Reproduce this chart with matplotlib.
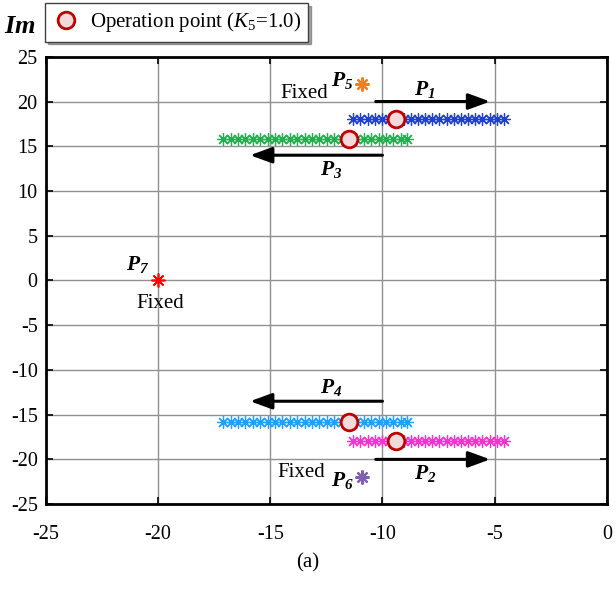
import matplotlib
matplotlib.use("Agg")
import matplotlib.pyplot as plt

plt.rcParams['font.family'] = ['Liberation Serif', 'DejaVu Serif']
plt.rcParams['mathtext.fontset'] = 'custom'
plt.rcParams['mathtext.rm'] = 'Liberation Serif'
plt.rcParams['mathtext.it'] = 'Liberation Serif:italic'
plt.rcParams['mathtext.bf'] = 'Liberation Serif:bold:italic'

# root loci while K5 is swept
p1_x = [-11.30, -10.98, -10.66, -10.34, -10.02, -9.70, -9.38, -9.06, -8.74, -8.42, -8.10,
        -7.78, -7.46, -7.14, -6.82, -6.50, -6.18, -5.86, -5.54, -5.22, -4.90, -4.60]
p1_y = 18.0
p3_x = [-17.10, -16.77, -16.44, -16.11, -15.78, -15.45, -15.12, -14.79, -14.46, -14.13,
        -13.80, -13.47, -13.14, -12.81, -12.48, -12.15, -11.82, -11.49, -11.16, -10.83,
        -10.50, -10.17, -9.84, -9.51, -9.18, -8.90]
p3_y = 15.8
p2_x = p1_x
p2_y = -18.0
p4_x = p3_x
p4_y = -15.8

# fixed poles
p5 = (-10.9, 22.0)
p6 = (-10.9, -22.0)
p7 = (-20.0, 0.0)

# operation point at K5 = 1.0
op_x = [-9.4, -11.5, -11.5, -9.4]
op_y = [18.0, 15.8, -15.8, -18.0]

xticks = [-25, -20, -15, -10, -5, 0]
yticks = [-25, -20, -15, -10, -5, 0, 5, 10, 15, 20, 25]

fig = plt.figure(figsize=(6.16, 5.98), dpi=100)
ax = fig.add_axes([0.0747, 0.157, 0.9103, 0.748])

ast = (8, 2, 0)
ax.plot(p1_x, [p1_y] * len(p1_x), ls='none', marker=ast, ms=9, mew=0.9, color='#2040d0')
ax.plot(p3_x, [p3_y] * len(p3_x), ls='none', marker=ast, ms=9, mew=0.9, color='#20b050')
ax.plot(p2_x, [p2_y] * len(p2_x), ls='none', marker=ast, ms=9, mew=0.9, color='#ff30d0')
ax.plot(p4_x, [p4_y] * len(p4_x), ls='none', marker=ast, ms=9, mew=0.9, color='#20a0ff')
ax.plot(*p5, ls='none', marker=ast, ms=10, mew=1.6, color='#f07f20')
ax.plot(*p6, ls='none', marker=ast, ms=10, mew=1.6, color='#8060b0')
ax.plot(*p7, ls='none', marker=ast, ms=10, mew=1.2, color='#ff0000')

ax.plot(op_x, op_y, ls='none', marker='o', ms=12, mew=2, mfc='#f2dada', mec='#c00000',
        label='Operation point ($\\mathit{K}_5$=1.0)', zorder=5)

# direction arrows as K5 increases
arrow = dict(arrowstyle='-|>,head_length=0.6,head_width=0.22', lw=2.2, color='k',
             mutation_scale=22, shrinkA=0, shrinkB=0)
ax.annotate('', xy=(-5.2, 20.0), xytext=(-10.3, 20.0), arrowprops=arrow)
ax.annotate('', xy=(-5.2, -20.0), xytext=(-10.3, -20.0), arrowprops=arrow)
ax.annotate('', xy=(-15.9, 14.0), xytext=(-10.0, 14.0), arrowprops=arrow)
ax.annotate('', xy=(-15.9, -13.5), xytext=(-10.0, -13.5), arrowprops=arrow)

lbl = dict(fontsize=15.5, ha='center', va='center')
ax.text(-8.1, 21.4, '$\\mathbf{P}_\\mathbf{1}$', **lbl)
ax.text(-12.3, 12.4, '$\\mathbf{P}_\\mathbf{3}$', **lbl)
ax.text(-12.3, -12.0, '$\\mathbf{P}_\\mathbf{4}$', **lbl)
ax.text(-8.1, -21.6, '$\\mathbf{P}_\\mathbf{2}$', **lbl)
ax.text(-11.8, 22.4, '$\\mathbf{P}_\\mathbf{5}$', **lbl)
ax.text(-11.8, -22.4, '$\\mathbf{P}_\\mathbf{6}$', **lbl)
ax.text(-20.9, 1.8, '$\\mathbf{P}_\\mathbf{7}$', **lbl)
ax.text(-13.5, 20.9, 'Fixed', fontsize=15, ha='center', va='center')
ax.text(-13.6, -21.5, 'Fixed', fontsize=15, ha='center', va='center')
ax.text(-19.9, -2.6, 'Fixed', fontsize=15, ha='center', va='center')

ax.set_xlim(-25, 0)
ax.set_ylim(-25, 25)
ax.set_xticks(xticks)
ax.set_yticks(yticks)
ax.set_xticklabels([str(t) for t in xticks])
ax.set_yticklabels([str(t) for t in yticks])
ax.tick_params(direction='in', length=5, width=1.2, labelsize=14.5, top=True, right=True)
ax.tick_params(axis='x', pad=15)
ax.tick_params(axis='y', pad=6)
ax.grid(True, color='#909090', lw=1.0)
ax.set_axisbelow(True)
for s in ax.spines.values():
    s.set_linewidth(2.0)

leg = ax.legend(loc='upper left', bbox_to_anchor=(-0.002, 1.12), borderaxespad=0,
                fontsize=15, fancybox=False, shadow=True, frameon=True,
                handletextpad=0.5, borderpad=0.35, handlelength=1.3)
leg.get_frame().set_edgecolor('#404040')
leg.get_frame().set_linewidth(1.0)

fig.text(0.033, 0.955, '$\\mathbf{Im}$', fontsize=19, ha='center', va='center')
fig.text(0.5, 0.0585, '(a)', fontsize=15, ha='center', va='center')

fig.savefig('out.png', dpi=100)
